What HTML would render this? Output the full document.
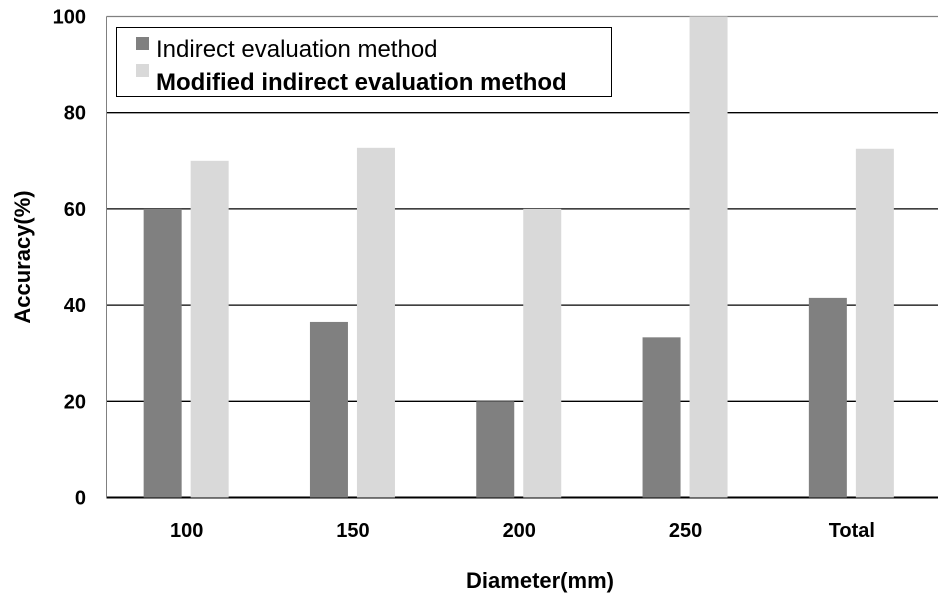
<!DOCTYPE html>
<html><head><meta charset="utf-8"><style>
body{margin:0;background:#fff}
svg text{font-family:"Liberation Sans","DejaVu Sans",sans-serif;font-weight:bold;fill:#000}
</style></head><body>
<svg id="chart" width="938" height="604" viewBox="0 0 938 604">
<g id="grid"></g><g id="bars"></g><g id="labels"></g>
<text x="540" y="588" font-size="22" text-anchor="middle">Diameter(mm)</text>
<text transform="translate(30,257) rotate(-90)" font-size="22" text-anchor="middle">Accuracy(%)</text>
<g>
<rect x="116.5" y="27.5" width="495" height="69" fill="#fff" stroke="#000" stroke-width="1"/>
<rect x="136" y="37" width="13" height="13" fill="#808080"/>
<text x="156" y="57" font-size="24" font-weight="normal" style="font-weight:normal">Indirect evaluation method</text>
<rect x="136" y="64" width="13" height="13" fill="#d9d9d9"/>
<text x="156" y="90" font-size="24">Modified indirect evaluation method</text>
</g>
</svg>
<script>
const categories=["100","150","200","250","Total"];
const indirectValues=[60,36.5,20,33.3,41.5];
const modifiedValues=[70,72.7,60,100,72.5];
const yTicks=[0,20,40,60,80,100];
const NS="http://www.w3.org/2000/svg";
const L=106.5,R=938,T=16.5,B=497.5;
const y=v=>B-(v/100)*(B-T);
const gw=(R-L)/categories.length;
const x=i=>L+gw*i;
function mk(tag,attrs,parent){const e=document.createElementNS(NS,tag);for(const k in attrs)e.setAttribute(k,attrs[k]);document.getElementById(parent).appendChild(e);return e;}
yTicks.forEach(t=>{
  const ln=mk('line',{x1:L,x2:R,y1:y(t),y2:y(t),stroke:t===100?'#808080':'#000','stroke-width':t===0?2:1.3},'grid');
  
  
  const tx=mk('text',{x:86,y:y(t)+7,'font-size':20,'text-anchor':'end'},'labels');
  tx.textContent=t;
  
  
});
const ax=mk('line',{x1:L,x2:L,y1:T,y2:B,stroke:'#808080','stroke-width':1},'grid');


categories.forEach((c,i)=>{
  const cx=x(i)+gw/2;
  const b1=mk('rect',{x:cx-46,width:38,y:y(indirectValues[i]),height:B-y(indirectValues[i]),fill:'#808080'},'bars');
  
  
  const b2=mk('rect',{x:cx+1,width:38,y:y(modifiedValues[i]),height:B-y(modifiedValues[i]),fill:'#d9d9d9'},'bars');
  
  
  const t=mk('text',{x:cx-3,y:537,'font-size':20,'text-anchor':'middle'},'labels');
  t.textContent=c;
  
  
});
</script>
</body></html>
